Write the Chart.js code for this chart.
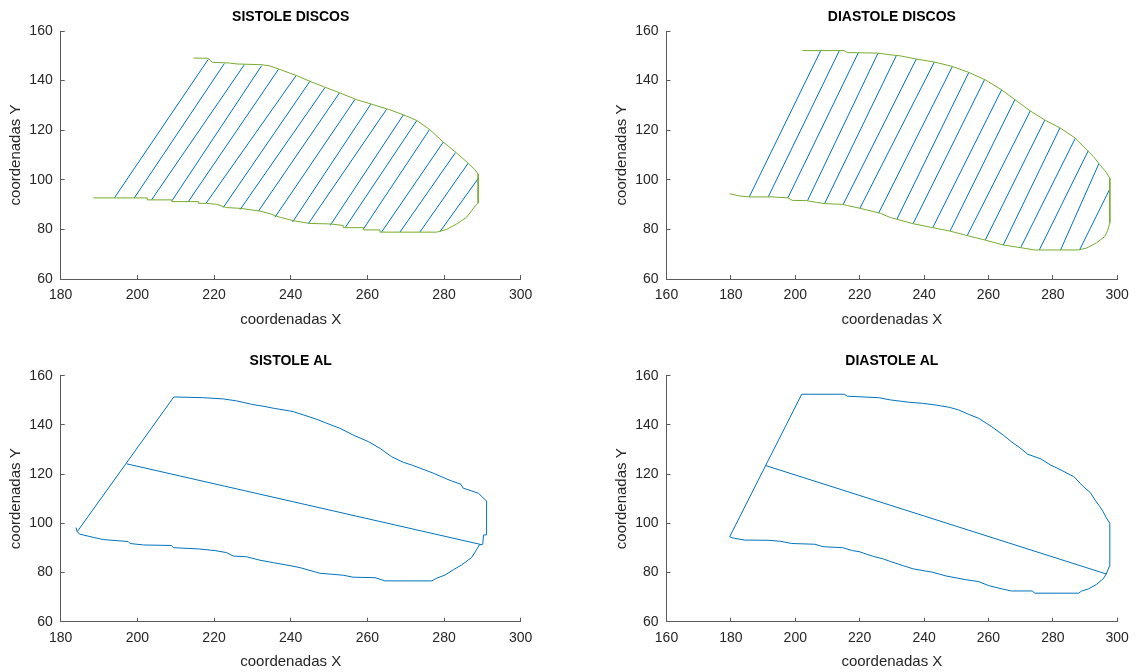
<!DOCTYPE html>
<html>
<head>
<meta charset="utf-8">
<script src="https://cdn.jsdelivr.net/npm/chart.js@4/dist/chart.umd.min.js"></script>
<style>
html,body{margin:0;padding:0;background:#fff;width:1141px;height:672px;overflow:hidden}
.c{position:absolute}
</style>
</head>
<body>
<div class="c" style="left:0;top:0"><canvas id="c1" width="570" height="336"></canvas></div>
<div class="c" style="left:570px;top:0"><canvas id="c2" width="571" height="336"></canvas></div>
<div class="c" style="left:0;top:336px"><canvas id="c3" width="570" height="336"></canvas></div>
<div class="c" style="left:570px;top:336px"><canvas id="c4" width="571" height="336"></canvas></div>
<script>
// ---------- tick labels ----------
const xTicksSis = [180, 200, 220, 240, 260, 280, 300];
const xTicksDia = [160, 180, 200, 220, 240, 260, 280, 300];
const yTicks = [60, 80, 100, 120, 140, 160];

// ---------- SISTOLE DISCOS : boundary ----------
const sisDiscContourX = [214.6,218.5,219.5,224.0,226.0,232.5,234.6,237.2,239.8,241.6,245.0,248.5,252.9,257.2,260.7,265.9,269.4,272.9,276.3,279.8,283.3,286.3,288.1,288.9,288.9,288.1,285.9,283.3,280.7,278.1,263.3,263.3,259.0,259.0,253.7,253.7,250.3,245.0,240.7,237.2,234.6,232.0,226.8,223.3,220.7,218.1,215.9,215.9,209.0,209.0,202.6,202.6,188.5];
const sisDiscContourY = [149.1,149.0,147.4,147.1,146.7,146.4,145.9,144.5,143.0,142.0,139.7,137.6,135.0,132.3,130.7,128.2,126.2,123.9,120.2,115.2,110.8,106.7,104.0,102.3,90.6,89.4,84.9,82.2,80.0,78.9,78.9,79.8,79.8,80.7,80.7,81.6,82.2,82.4,83.5,84.9,86.3,87.4,88.5,88.8,90.1,90.5,90.5,91.2,91.2,91.9,91.9,92.7,92.7];
// ---------- SISTOLE DISCOS : discs ----------
const sisDiscBotX = [194.0,199.2,203.7,209.0,213.3,217.9,222.4,226.8,231.6,235.9,240.5,244.6,250.3,254.2,258.9,263.7,268.5,273.7,278.9];
const sisDiscBotY = [92.7,92.7,91.9,91.5,91.2,90.5,88.8,88.0,87.4,84.9,83.0,82.3,81.6,80.7,80.0,78.9,78.9,78.9,79.0];
const sisDiscTopX = [218.5,222.7,227.9,232.4,236.8,241.4,245.0,249.0,252.7,256.8,260.9,265.0,269.4,272.9,276.2,279.8,283.0,286.3,288.9];
const sisDiscTopY = [148.6,146.9,146.4,146.0,144.5,142.0,139.7,137.3,135.0,132.5,130.5,128.4,126.2,123.9,120.2,115.2,111.0,106.7,100.5];

// ---------- DIASTOLE DISCOS : boundary ----------
const diaDiscContourX = [202.2,215.2,216.2,225.4,229.5,232.5,237.6,243.2,248.8,253.9,259.0,264.1,268.2,273.2,277.8,282.4,287.0,290.5,292.6,294.6,296.6,297.7,297.7,297.0,296.1,293.6,290.5,288.0,274.3,270.2,264.6,259.0,253.4,247.8,242.7,236.6,231.5,229.5,226.4,222.3,219.8,216.2,214.7,209.1,206.6,203.5,199.1,197.7,192.8,185.7,182.6,179.6];
const diaDiscContourY = [152.1,152.1,151.3,151.1,150.4,150.0,148.7,147.5,145.7,143.3,140.3,136.3,132.3,127.6,123.9,120.8,116.8,112.1,109.4,106.1,103.0,100.6,82.7,79.4,77.1,74.6,72.5,71.7,71.7,72.6,73.7,75.7,77.5,79.4,80.7,82.3,84.1,84.8,86.5,87.8,88.6,89.6,90.1,90.4,90.9,91.6,91.7,92.7,93.1,93.1,93.5,94.4];
// ---------- DIASTOLE DISCOS : discs ----------
const diaDiscBotX = [185.7,191.6,197.7,203.8,209.1,214.9,220.1,225.9,231.6,236.6,242.7,248.1,253.4,259.0,264.6,270.0,275.8,282.4,288.3];
const diaDiscBotY = [93.1,93.1,92.7,91.6,90.4,90.1,88.6,86.6,84.2,82.3,80.7,79.4,77.5,75.7,73.7,72.6,71.7,71.7,71.7];
const diaDiscTopX = [207.9,213.7,219.6,225.7,231.4,237.6,243.2,248.8,253.9,258.8,264.1,268.2,273.0,277.5,282.2,287.0,291.0,294.3,297.7];
const diaDiscTopY = [152.1,152.1,151.3,151.1,150.1,148.7,147.5,145.7,143.3,140.4,136.3,132.3,127.8,124.1,120.9,116.8,111.7,106.5,96.3];

// ---------- SISTOLE AL : boundary + long axis ----------
const sisAlContourX = [184.0,184.3,185.0,188.5,191.1,197.6,198.1,201.6,208.9,209.4,215.9,220.3,223.3,225.0,228.5,232.0,235.5,239.8,242.4,247.6,253.7,256.3,262.0,264.6,276.8,278.1,280.3,282.4,284.6,287.2,288.3,289.2,290.1,290.3,291.1,291.1,290.5,289.0,287.2,285.0,284.4,282.0,280.3,277.2,275.0,271.6,269.4,266.3,263.3,260.3,256.3,252.9,249.4,246.8,243.3,240.7,239.8,235.5,233.3,229.8,225.9,222.4,217.2,209.5,184.3];
const sisAlContourY = [98.3,96.6,95.6,94.3,93.4,92.6,91.8,91.2,91.0,90.1,89.6,88.9,88.1,86.7,86.4,85.0,84.0,82.8,82.0,79.7,78.9,78.1,77.9,76.6,76.6,77.7,79.0,81.1,83.1,86.1,88.8,91.2,91.5,95.3,95.3,109.1,109.9,112.2,113.2,114.3,115.9,117.2,118.3,120.4,121.7,123.7,124.8,127.1,130.5,133.2,135.9,138.6,140.7,142.3,144.1,145.4,145.7,146.8,147.5,148.4,149.8,150.6,151.1,151.4,96.6];
const sisAlAxisX = [197.2, 289.6];
const sisAlAxisY = [124.2, 91.4];

// ---------- DIASTOLE AL : boundary + long axis ----------
const diaAlContourX = [179.6,181.1,184.2,191.8,195.4,198.9,206.1,208.6,214.7,217.8,219.8,222.3,224.4,227.4,229.5,233.5,236.6,242.7,246.8,252.9,257.0,260.0,264.6,267.1,273.7,274.3,288.0,289.0,291.0,293.6,295.6,296.6,297.5,297.7,297.7,296.6,295.6,294.6,293.1,291.6,290.0,288.5,286.5,284.4,281.9,279.3,276.3,272.2,269.7,267.1,264.6,261.0,257.0,253.9,250.8,247.8,243.7,239.6,235.6,229.5,225.9,216.2,215.2,202.0,179.6];
const diaAlContourY = [94.5,93.9,93.2,93.1,92.7,91.8,91.5,90.5,90.1,88.9,88.5,87.4,86.5,85.5,84.5,82.8,81.5,80.1,78.6,77.1,76.3,74.7,73.2,72.5,72.5,71.6,71.6,72.5,73.3,75.2,77.4,79.4,82.4,82.4,100.0,102.3,104.8,106.8,109.5,112.6,114.3,116.3,119.0,120.4,122.1,123.7,126.2,128.1,130.8,133.2,135.9,139.3,142.7,144.3,146.1,147.2,148.1,148.8,149.2,150.2,151.1,151.7,152.5,152.5,94.5];
const diaAlAxisX = [190.8, 296.6];
const diaAlAxisY = [123.5, 79.4];

// ---------- styling ----------
const FONT = '"Liberation Sans", Arial, Helvetica, sans-serif';
const GREEN = '#77AC30';
const BLUE = '#0072BD';
const AXIS = '#5a5a5a';
const TEXT = '#262626';

function pts(xs, ys) { return xs.map((x, i) => ({x: x, y: ys[i]})); }
function lineDs(xs, ys, color) {
  return {data: pts(xs, ys), showLine: true, borderColor: color, borderWidth: 1,
          pointRadius: 0, fill: false, tension: 0};
}
function discDs(bx, by, tx, ty) {
  return bx.map((x, i) => lineDs([x, tx[i]], [by[i], ty[i]], BLUE));
}

function makeChart(id, o) {
  return new Chart(document.getElementById(id), {
    type: 'scatter',
    data: {datasets: o.datasets},
    options: {
      responsive: false, animation: false, devicePixelRatio: 1, events: [],
      layout: {padding: {left: 0, top: 0, right: o.padRight, bottom: 0}},
      plugins: {
        legend: {display: false}, tooltip: {enabled: false},
        title: {display: true, text: o.title, fullSize: false, color: '#000',
                font: {family: FONT, size: 14, weight: 'bold', lineHeight: 1.2},
                padding: {top: o.titleTop, bottom: o.titleBottom}}
      },
      scales: {
        x: {
          type: 'linear', min: o.xTicks[0], max: o.xTicks[o.xTicks.length - 1],
          afterBuildTicks: s => { s.ticks = o.xTicks.map(v => ({value: v})); },
          afterFit: s => { s.height = o.xHeight; },
          grid: {drawOnChartArea: false, drawTicks: true, tickLength: -4, color: AXIS},
          border: {display: true, color: AXIS, width: 1},
          ticks: {color: TEXT, padding: 12.1, font: {family: FONT, size: 14, lineHeight: 1.2}, maxRotation: 0, autoSkip: false},
          title: {display: true, text: 'coordenadas X', color: TEXT,
                  font: {family: FONT, size: 15, lineHeight: 1.2}, padding: {top: 0, bottom: o.xTitleBottom}}
        },
        y: {
          type: 'linear', min: 60, max: 160,
          afterBuildTicks: s => { s.ticks = yTicks.map(v => ({value: v})); },
          afterFit: s => { s.width = o.yWidth; },
          grid: {drawOnChartArea: false, drawTicks: true, tickLength: -4, color: AXIS},
          border: {display: true, color: AXIS, width: 1},
          ticks: {color: TEXT, padding: 12, font: {family: FONT, size: 14, lineHeight: 1.2}, autoSkip: false},
          title: {display: true, text: 'coordenadas Y', color: TEXT,
                  font: {family: FONT, size: 15, lineHeight: 1.2}, padding: {top: o.yTitleTop, bottom: 0}}
        }
      }
    }
  });
}

makeChart('c1', {
  title: 'SISTOLE DISCOS', xTicks: xTicksSis,
  padRight: 49.3, yWidth: 60.7, xHeight: 57, titleTop: 8.3, titleBottom: 5.9,
  xTitleBottom: 7, yTitleTop: 6.5,
  datasets: [lineDs(sisDiscContourX, sisDiscContourY, GREEN)].concat(discDs(sisDiscBotX, sisDiscBotY, sisDiscTopX, sisDiscTopY))
});
makeChart('c2', {
  title: 'DIASTOLE DISCOS', xTicks: xTicksDia,
  padRight: 16.3, yWidth: 96.5, xHeight: 57, titleTop: 8.3, titleBottom: 5.9,
  xTitleBottom: 7, yTitleTop: 42.4,
  datasets: [lineDs(diaDiscContourX, diaDiscContourY, GREEN)].concat(discDs(diaDiscBotX, diaDiscBotY, diaDiscTopX, diaDiscTopY))
});
makeChart('c3', {
  title: 'SISTOLE AL', xTicks: xTicksSis,
  padRight: 49.3, yWidth: 60.7, xHeight: 50.3, titleTop: 16.3, titleBottom: 6.7,
  xTitleBottom: 1.3, yTitleTop: 6.5,
  datasets: [lineDs(sisAlContourX, sisAlContourY, BLUE), lineDs(sisAlAxisX, sisAlAxisY, BLUE)]
});
makeChart('c4', {
  title: 'DIASTOLE AL', xTicks: xTicksDia,
  padRight: 16.3, yWidth: 96.5, xHeight: 50.3, titleTop: 16.3, titleBottom: 6.7,
  xTitleBottom: 1.3, yTitleTop: 42.4,
  datasets: [lineDs(diaAlContourX, diaAlContourY, BLUE), lineDs(diaAlAxisX, diaAlAxisY, BLUE)]
});
</script>
</body>
</html>
